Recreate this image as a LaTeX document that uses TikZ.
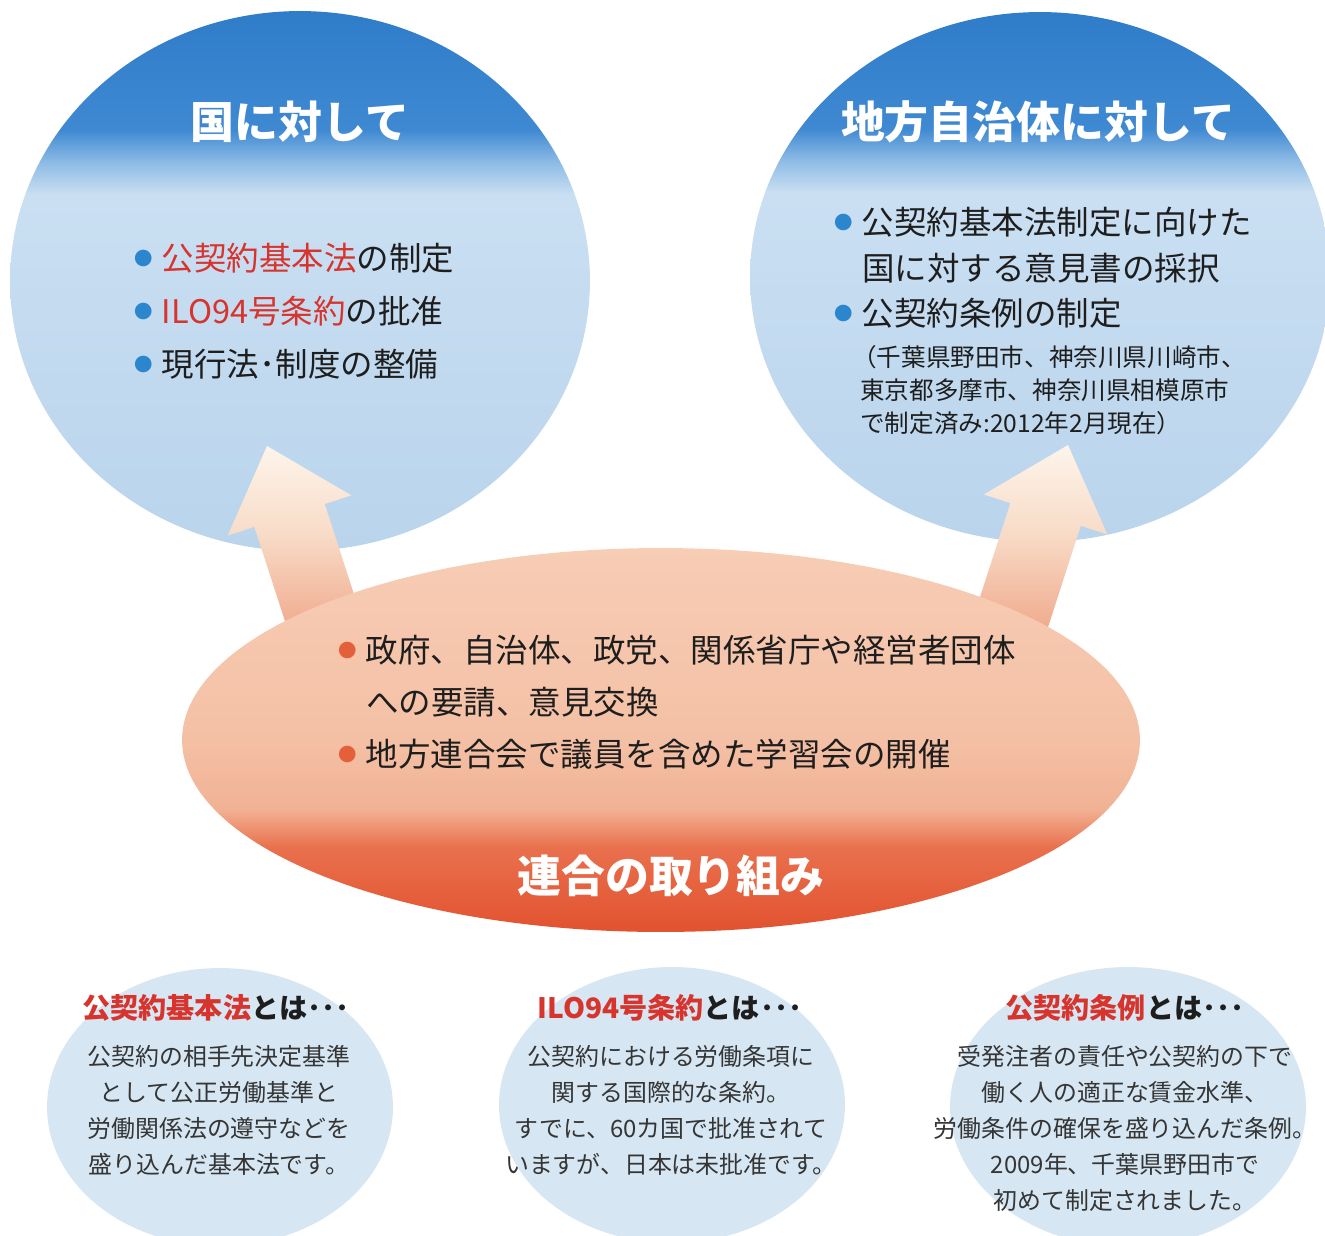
\documentclass[tikz,border=0pt]{standalone}
\usepackage{fontspec}
\setmainfont{Noto Sans CJK JP}
\usepackage{xcolor}
\usetikzlibrary{positioning,calc,shapes.geometric}

\definecolor{ink}{HTML}{1E1E1E}
\definecolor{inkgray}{HTML}{353535}
\definecolor{hlred}{HTML}{D8342E}
\definecolor{dotblue}{HTML}{2C86CE}
\definecolor{dotorange}{HTML}{E4603A}
\definecolor{palesky}{HTML}{D6E7F3}
\definecolor{disctop}{HTML}{2F7CC9}
\definecolor{discdeep}{HTML}{3F89D2}
\definecolor{discfade}{HTML}{8DBBE5}
\definecolor{disclight}{HTML}{CADFF2}
\definecolor{discbot}{HTML}{B9D4EC}
\definecolor{rengotop}{HTML}{F7CDB5}
\definecolor{rengomid}{HTML}{F4C0A5}
\definecolor{rengolow}{HTML}{F1B294}
\definecolor{rengored}{HTML}{E9704D}
\definecolor{rengobot}{HTML}{E2522F}
\definecolor{arrtop}{HTML}{FDF4EA}
\definecolor{arrmid}{HTML}{F8DCC8}
\definecolor{arrbot}{HTML}{EE9F80}

\pgfdeclareverticalshading{bluedisc}{100bp}{color(0bp)=(discbot); color(25bp)=(discbot);
  color(58bp)=(disclight); color(61bp)=(discfade); color(64bp)=(discdeep);
  color(75bp)=(disctop); color(100bp)=(disctop)}
\pgfdeclareverticalshading{rengoshade}{100bp}{color(0bp)=(rengobot); color(25bp)=(rengobot);
  color(36bp)=(rengored); color(41bp)=(rengolow); color(50bp)=(rengomid);
  color(75bp)=(rengotop); color(100bp)=(rengotop)}
\pgfdeclareverticalshading{arrowshade}{100bp}{color(0bp)=(arrbot); color(25bp)=(arrbot);
  color(54bp)=(arrmid); color(75bp)=(arrtop); color(100bp)=(arrtop)}

\newcommand\dotmark[1]{\textcolor{#1}{\raisebox{3pt}{\fontsize{10.5}{10.5}\selectfont ●}}\hspace{0.18cm}}
% block arrow from #1 (foot) to #2 (tip)
\newcommand\uparr[2]{%
  \coordinate (hb) at ($(#2)!1.46cm!(#1)$);
  \shade[shading=arrowshade]
    ($(#1)!0.74cm!90:(#2)$) -- ($(hb)!0.74cm!90:(#2)$) -- ($(hb)!1.3cm!90:(#2)$) -- (#2)
    -- ($(hb)!1.3cm!-90:(#2)$) -- ($(hb)!0.74cm!-90:(#2)$) -- ($(#1)!0.74cm!-90:(#2)$) -- cycle;}

\tikzset{
  disc/.style={ellipse, shading=bluedisc, inner sep=0pt, outer sep=0pt},
  bubble/.style={ellipse, fill=palesky, inner sep=0pt, outer sep=0pt},
  bigtitle/.style={font=\bfseries\fontsize{25}{25}\selectfont, text=white, inner sep=0pt},
  item/.style={font=\fontsize{18.5}{18.5}\selectfont, text=ink, anchor=west, inner sep=0pt},
  note/.style={font=\fontsize{14}{14}\selectfont, text=ink, anchor=west, inner sep=0pt},
  defhead/.style={font=\bfseries\fontsize{16}{16}\selectfont, text=ink, inner sep=0pt},
  defbody/.style={font=\fontsize{13.6}{20.5}\selectfont, text=inkgray, align=center, inner sep=0pt},
}

\begin{document}
\begin{tikzpicture}[x=0.02cm, y=-0.02cm]
\useasboundingbox (0,0) rectangle (1325,1235);

% two target discs
\node[disc, minimum width=11.6cm, minimum height=10.8cm] (kuni) at (300,281) {};
\node[disc, minimum width=11.6cm, minimum height=10.6cm] (jichi) at (1040,277) {};

% arrows out of the rengo ellipse
\coordinate (kuni-tip) at (267,446);
\coordinate (kuni-foot) at (330,640);
\coordinate (jichi-tip) at (1068,445);
\coordinate (jichi-foot) at (1005,640);
\uparr{kuni-foot}{kuni-tip}
\uparr{jichi-foot}{jichi-tip}

\node[ellipse, shading=rengoshade, inner sep=0pt, outer sep=0pt,
  minimum width=19.16cm, minimum height=7.68cm] (rengo) at (661,740) {};

% titles
\node[bigtitle] (kuni-title) at (300,122) {国に対して};
\node[bigtitle] (jichi-title) at (1038,122) {地方自治体に対して};
\node[bigtitle] (rengo-title) at (671,876) {連合の取り組み};

% national level
\node[item] (kuni-a) at (134,258) {\dotmark{dotblue}\textcolor{hlred}{公契約基本法}の制定};
\node[item] (kuni-b) at (134,311) {\dotmark{dotblue}\textcolor{hlred}{ILO94号条約}の批准};
\node[item] (kuni-c) at (134,364) {\dotmark{dotblue}現行法･制度の整備};

% local level
\node[item] (jichi-a) at (834,222) {\dotmark{dotblue}公契約基本法制定に向けた};
\node[item] (jichi-b) at (862,268) {国に対する意見書の採択};
\node[item] (jichi-c) at (834,313) {\dotmark{dotblue}公契約条例の制定};
\node[note] (jichi-n1) at (852,357) {（千葉県野田市、神奈川県川崎市、};
\node[note] (jichi-n2) at (860,390) {東京都多摩市、神奈川県相模原市};
\node[note] (jichi-n3) at (860,423) {で制定済み:2012年2月現在）};

% rengo
\node[item] (rengo-a) at (338,650) {\dotmark{dotorange}政府、自治体、政党、関係省庁や経営者団体};
\node[item] (rengo-b) at (366,702) {への要請、意見交換};
\node[item] (rengo-c) at (338,754) {\dotmark{dotorange}地方連合会で議員を含めた学習会の開催};

% definitions
\node[bubble, minimum width=6.92cm, minimum height=5.56cm] (kihon) at (220,1107) {};
\node[bubble, minimum width=6.92cm, minimum height=5.52cm] (ilo) at (672,1105) {};
\node[bubble, minimum width=7.12cm, minimum height=5.6cm] (jorei) at (1128,1107) {};

\node[defhead] (kihon-head) at (216,1008) {\textcolor{hlred}{公契約基本法}とは･･･};
\node[defhead] (ilo-head) at (670,1008) {\textcolor{hlred}{ILO94号条約}とは･･･};
\node[defhead] (jorei-head) at (1125,1008) {\textcolor{hlred}{公契約条例}とは･･･};

\node[defbody] (kihon-body) at (219,1110) {公契約の相手先決定基準\\として公正労働基準と\\労働関係法の遵守などを\\盛り込んだ基本法です。};
\node[defbody] (ilo-body) at (671,1110) {公契約における労働条項に\\関する国際的な条約。\\すでに、60カ国で批准されて\\いますが、日本は未批准です。};
\node[defbody] (jorei-body) at (1125,1128) {受発注者の責任や公契約の下で\\働く人の適正な賃金水準、\\労働条件の確保を盛り込んだ条例。\\2009年、千葉県野田市で\\初めて制定されました。};
\end{tikzpicture}
\end{document}
